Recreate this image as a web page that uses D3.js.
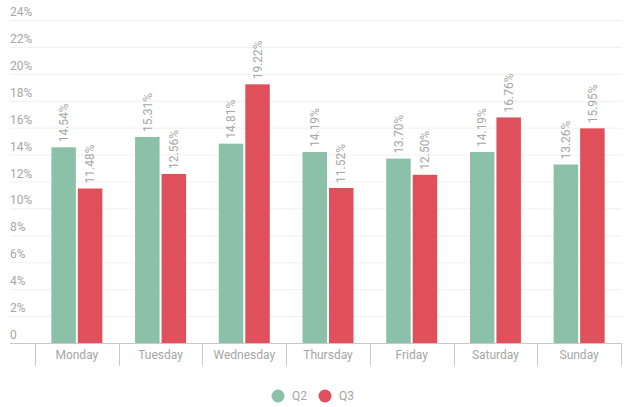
<!DOCTYPE html>
<html>
<head>
<meta charset="utf-8">
<script src="https://cdn.jsdelivr.net/npm/d3@7"></script>
<style>
  body { margin: 0; background: #fff; }
  text { font-family: Roboto, "Noto Sans", sans-serif; }
</style>
</head>
<body>
<svg id="chart"></svg>
<script>
// Data
const days = ["Monday", "Tuesday", "Wednesday", "Thursday", "Friday", "Saturday", "Sunday"]
const seriesNames = ["Q2", "Q3"]
const q2 = [14.54, 15.31, 14.81, 14.19, 13.70, 14.19, 13.26]
const q3 = [11.48, 12.56, 19.22, 11.52, 12.50, 16.76, 15.95]
const yTicks = [0, 2, 4, 6, 8, 10, 12, 14, 16, 18, 20, 22, 24]

const colors = ["#8bc1a8", "#e0505a"]
const W = 628, H = 407

const svg = d3.select("#chart").attr("width", W).attr("height", H)

// Plot area
const x0 = 35, x1 = 621, yBase = 343, yTop = 20

const xScale = d3.scaleBand().domain(days).range([x0, x1])
const yScale = d3.scaleLinear().domain([0, 24]).range([yBase, yTop])

// Gridlines + y labels
const grid = svg.append("g")
grid.selectAll("line")
    .data(yTicks.filter(d => d > 0))
    .enter().append("line")
    .attr("x1", 10).attr("x2", 622)
    .attr("y1", d => yScale(d) + 0.5).attr("y2", d => yScale(d) + 0.5)
    .attr("stroke", "#f0f0f0")

grid.selectAll("text")
    .data(yTicks)
    .enter().append("text")
    .attr("x", 10)
    .attr("y", d => yScale(d) - 4)
    .attr("fill", "#a6a6a6")
    .attr("font-size", "12px")
    .text(d => d === 0 ? "0" : d + "%")

// Bars
const barW = 24.5, gap = 2
const series = [q2, q3]
series.forEach((vals, s) => {
    const g = svg.append("g")
    const xPos = (d, i) => xScale(days[i]) + xScale.bandwidth() / 2 + (s === 0 ? -(barW + gap / 2) : gap / 2)

    g.selectAll("rect")
        .data(vals)
        .enter().append("rect")
        .attr("x", xPos)
        .attr("y", d => yScale(d))
        .attr("width", barW)
        .attr("height", d => yBase - yScale(d))
        .attr("fill", colors[s])

    g.selectAll("text")
        .data(vals)
        .enter().append("text")
        .attr("transform", (d, i) => "translate(" + (xPos(d, i) + barW / 2) + "," + (yScale(d) - 5) + ") rotate(-90)")
        .attr("dy", "0.35em")
        .attr("fill", "#a6a6a6")
        .attr("font-size", "12px")
        .text(d => d.toFixed(2) + "%")
})

// X axis
const xAxis = svg.append("g")
xAxis.append("line")
    .attr("x1", 10).attr("x2", 622)
    .attr("y1", yBase + 0.5).attr("y2", yBase + 0.5)
    .attr("stroke", "#c8c8c8")

const bounds = days.map(d => xScale(d)).concat([x1])
xAxis.selectAll("line.tick")
    .data(bounds)
    .enter().append("line")
    .attr("class", "tick")
    .attr("x1", d => Math.round(d) + 0.5).attr("x2", d => Math.round(d) + 0.5)
    .attr("y1", yBase).attr("y2", yBase + 23)
    .attr("stroke", "#c8c8c8")

xAxis.selectAll("text")
    .data(days)
    .enter().append("text")
    .attr("x", d => xScale(d) + xScale.bandwidth() / 2)
    .attr("y", yBase + 16)
    .attr("text-anchor", "middle")
    .attr("fill", "#a6a6a6")
    .attr("font-size", "12px")
    .text(d => d)

// Legend
const legend = svg.append("g")
const legendX = [278, 325]
seriesNames.forEach((name, i) => {
    legend.append("circle")
        .attr("cx", legendX[i]).attr("cy", 396)
        .attr("r", 6.5)
        .attr("fill", colors[i])
    legend.append("text")
        .attr("x", legendX[i] + 14).attr("y", 396)
        .attr("dy", "0.35em")
        .attr("fill", "#a6a6a6")
        .attr("font-size", "12px")
        .text(name)
})
</script>
</body>
</html>
